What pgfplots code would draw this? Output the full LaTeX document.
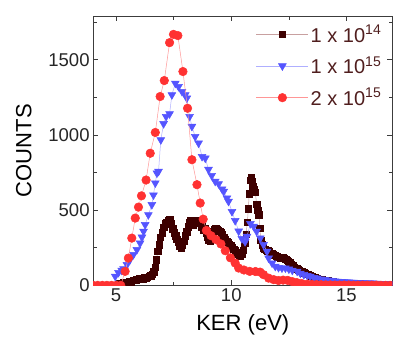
\documentclass[border=0pt]{standalone}
\usepackage{fontspec}
\setmainfont{Liberation Sans}
\usepackage{pgfplots}
\pgfplotsset{compat=1.18}
\definecolor{mkA}{RGB}{62,0,0}
\definecolor{lnA}{RGB}{200,160,160}
\definecolor{mkB}{RGB}{85,85,255}
\definecolor{lnB}{RGB}{175,175,255}
\definecolor{mkC}{RGB}{255,50,50}
\definecolor{lnC}{RGB}{255,150,150}
\definecolor{legtxt}{RGB}{80,30,30}
\definecolor{axgray}{RGB}{60,60,60}
\begin{document}
\begin{tikzpicture}
\begin{axis}[
  scale only axis, width=299pt, height=269pt,
  xmin=4, xmax=17, ymin=0, ymax=1790,
  xtick={5,10,15}, minor xtick={7.5,12.5},
  ytick={0,500,1000,1500}, minor ytick={250,750,1250,1750},
  tick align=inside, major tick length=5pt, minor tick length=3.5pt,
  tick style={axgray, line width=0.6pt},
  axis line style={axgray, line width=0.8pt},
  xlabel={KER (eV)}, ylabel={COUNTS},
  label style={font=\fontsize{22}{24}\selectfont},
  ticklabel style={font=\fontsize{18.5}{20}\selectfont, text=black!85},
  /pgf/number format/assume math mode=true,
  /pgf/number format/1000 sep={},
  xlabel style={yshift=-6pt},
  ylabel style={yshift=10pt},
  clip marker paths=true,
  legend style={draw=none, fill=none, at={(rel axis cs:0.97,0.975)}, anchor=north east,
    font=\fontsize{20}{22}\selectfont, text=legtxt, row sep=9pt, inner sep=0pt},
  legend cell align=left,
  legend image code/.code={\draw[mark repeat=2, mark phase=2, #1] plot coordinates {(0pt,0pt) (26pt,0pt) (52pt,0pt)};},
]
\addplot[color=lnA, line width=0.5pt, mark=square*, mark size=3.2pt, mark options={mkA, draw=mkA, fill=mkA}] coordinates {
(5.10,5)(5.17,12)(5.24,15)(5.31,18)(5.38,20)(5.45,15)(5.52,22)(5.59,27)(5.66,25)(5.73,32)
(5.80,35)(5.87,38)(5.94,40)(6.01,45)(6.08,48)(6.15,42)(6.22,50)(6.29,48)(6.36,55)(6.43,60)
(6.50,65)(6.57,75)(6.64,90)(6.70,120)(6.75,170)(6.80,225)(6.86,270)(6.92,320)(6.99,350)(7.06,385)
(7.13,410)(7.20,415)(7.27,430)(7.33,440)(7.40,410)(7.46,375)(7.52,350)(7.58,330)(7.64,305)(7.70,285)
(7.76,260)(7.82,250)(7.88,265)(7.94,295)(8.00,330)(8.06,355)(8.12,390)(8.18,420)(8.24,430)(8.30,410)
(8.36,400)(8.42,420)(8.48,425)(8.54,430)(8.60,420)(8.66,415)(8.72,390)(8.78,365)(8.84,375)(8.90,350)
(8.96,320)(9.02,300)(9.08,295)(9.14,320)(9.20,355)(9.26,370)(9.32,375)(9.38,370)(9.44,365)(9.50,360)
(9.56,350)(9.62,335)(9.68,320)(9.74,305)(9.80,295)(9.86,285)(9.92,275)(9.98,265)(10.04,255)(10.10,240)
(10.16,230)(10.22,220)(10.28,210)(10.34,200)(10.40,195)(10.46,205)(10.52,235)(10.58,280)(10.64,340)(10.70,420)
(10.74,510)(10.78,610)(10.82,700)(10.86,715)(10.90,690)(10.94,660)(10.98,640)(11.04,620)(11.10,540)(11.15,500)
(11.20,470)(11.24,380)(11.28,300)(11.34,270)(11.40,250)(11.46,240)(11.52,235)(11.58,230)(11.64,225)(11.70,215)
(11.76,210)(11.82,205)(11.88,200)(11.94,195)(12.00,190)(12.06,185)(12.12,180)(12.18,180)(12.24,185)(12.30,180)
(12.36,175)(12.42,165)(12.48,160)(12.54,150)(12.60,140)(12.66,130)(12.72,120)(12.78,115)(12.84,110)(12.90,105)
(12.96,100)(13.02,95)(13.08,90)(13.14,85)(13.20,80)(13.26,75)(13.32,72)(13.38,68)(13.44,65)(13.50,60)
(13.56,55)(13.62,50)(13.68,48)(13.74,45)(13.80,42)(13.86,40)(13.92,38)(13.98,35)(14.1,32)(14.2,30)
(14.3,27)(14.4,25)(14.5,22)(14.6,20)(14.7,18)(14.8,16)(14.9,15)(15.0,14)(15.2,12)(15.4,11)
(15.6,10)(15.8,9)(16.0,8)(16.2,7)(16.4,6)(16.6,5)(16.8,5)(17.0,4)
};
\addlegendentry{1 x 10\textsuperscript{14}}
\addplot[color=lnB, line width=0.5pt, mark=triangle*, mark size=4.5pt, mark options={mkB, draw=mkB, fill=mkB, rotate=180}] coordinates {
(4.96,60)(5.10,85)(5.24,100)(5.32,110)(5.47,137)(5.60,171)(5.75,204)(5.90,237)(6.04,281)(6.12,320)
(6.19,359)(6.26,403)(6.40,469)(6.55,536)(6.62,600)(6.70,680)(6.77,746)(6.84,757)(6.94,967)(7.06,1074)
(7.17,1122)(7.32,1140)(7.42,1266)(7.57,1343)(7.71,1321)(7.86,1288)(8.00,1266)(8.07,1244)(8.19,1122)(8.29,1056)
(8.43,989)(8.58,945)(8.73,856)(8.87,845)(9.01,770)(9.15,730)(9.30,691)(9.45,675)(9.60,640)(9.67,624)
(9.81,580)(9.88,558)(10.03,490)(10.17,430)(10.32,360)(10.46,310)(10.60,290)(10.68,325)(10.83,410)(10.97,392)
(11.10,359)(11.26,314)(11.40,270)(11.55,226)(11.62,181)(11.77,148)(11.91,126)(12.05,118)(12.20,115)(12.35,115)
(12.50,108)(12.65,100)(12.86,93)(13.00,80)(13.15,71)(13.30,65)(13.43,60)(13.58,52)(13.72,48)(13.90,42)
(14.05,38)(14.2,35)(14.3,32)(14.4,30)(14.5,28)(14.6,27)(14.7,25)(14.8,24)(14.9,23)(15.0,22)(15.1,21)(15.2,20)
(15.3,19)(15.4,18)(15.5,17)(15.6,16)(15.7,16)(15.8,15)(15.9,15)(16.0,14)(16.1,14)(16.2,13)(16.3,13)(16.4,12)
(16.5,12)(16.6,11)(16.7,11)(16.8,10)(16.9,10)(17.0,10)
};
\addlegendentry{1 x 10\textsuperscript{15}}
\addplot[color=lnC, line width=0.5pt, mark=*, mark size=4.3pt, mark options={mkC, draw=mkC, fill=mkC}] coordinates {
(4.0,0)(4.2,0)(4.4,0)(4.6,0)(4.8,0)(5.0,0)(5.2,0)(5.39,93)(5.53,181)(5.68,314)
(5.83,447)(5.97,520)(6.10,595)(6.30,700)(6.48,878)(6.70,1016)(6.91,1255)(7.09,1361)(7.32,1613)(7.49,1668)
(7.68,1660)(7.90,1421)(8.10,1177)(8.29,835)(8.51,669)(8.65,547)(8.78,440)(8.92,365)(9.12,330)(9.33,305)
(9.55,275)(9.74,230)(9.96,183)(10.17,148)(10.32,115)(10.55,102)(10.80,93)(11.05,92)(11.25,88)(11.40,71)
(11.62,48)(11.84,38)(12.05,32)(12.25,35)(12.45,33)(12.65,25)(12.85,18)(13.05,12)(13.3,8)(13.5,6)
(13.7,5)(13.9,4)(14.1,3)(14.3,3)(14.5,2)(14.7,2)(14.9,2)(15.1,2)(15.3,1)(15.5,1)
(15.7,1)(15.9,1)(16.1,1)(16.3,1)(16.5,0)(16.7,0)(16.9,0)
};
\addlegendentry{2 x 10\textsuperscript{15}}
\end{axis}
\pgfresetboundingbox
\path[use as bounding box] ([xshift=-93pt,yshift=-51pt]current axis.south west) rectangle ([xshift=1.5pt,yshift=16pt]current axis.north east);
\end{tikzpicture}
\end{document}
